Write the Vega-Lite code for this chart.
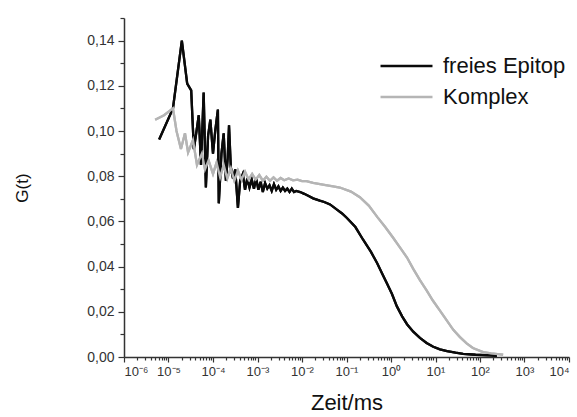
{
  "$schema": "https://vega.github.io/schema/vega-lite/v6.json",
  "width": 445,
  "height": 339,
  "autosize": {"type": "none"},
  "padding": {"left": 124, "top": 18, "right": 8, "bottom": 60},
  "background": "white",
  "config": {
    "view": {"stroke": null},
    "font": "Liberation Sans",
    "axis": {"grid": false, "domainColor": "#333333", "tickColor": "#333333", "domainWidth": 1.5, "tickWidth": 1.2, "labelColor": "#333333", "labelFont": "Liberation Sans", "titleFont": "Liberation Sans", "titleFontWeight": "normal", "titleColor": "#111111"}
  },
  "data": {"values": [
    {"s": "freies Epitop", "t": 6.166e-6, "g": 0.0962},
    {"s": "freies Epitop", "t": 1.259e-5, "g": 0.110},
    {"s": "freies Epitop", "t": 1.995e-5, "g": 0.140},
    {"s": "freies Epitop", "t": 2.630e-5, "g": 0.121},
    {"s": "freies Epitop", "t": 3.236e-5, "g": 0.118},
    {"s": "freies Epitop", "t": 3.715e-5, "g": 0.092},
    {"s": "freies Epitop", "t": 4.266e-5, "g": 0.100},
    {"s": "freies Epitop", "t": 4.786e-5, "g": 0.107},
    {"s": "freies Epitop", "t": 5.370e-5, "g": 0.085},
    {"s": "freies Epitop", "t": 6.166e-5, "g": 0.117},
    {"s": "freies Epitop", "t": 6.918e-5, "g": 0.075},
    {"s": "freies Epitop", "t": 7.762e-5, "g": 0.098},
    {"s": "freies Epitop", "t": 8.710e-5, "g": 0.105},
    {"s": "freies Epitop", "t": 1.0e-4, "g": 0.090},
    {"s": "freies Epitop", "t": 1.122e-4, "g": 0.100},
    {"s": "freies Epitop", "t": 1.288e-4, "g": 0.1095},
    {"s": "freies Epitop", "t": 1.349e-4, "g": 0.068},
    {"s": "freies Epitop", "t": 1.549e-4, "g": 0.090},
    {"s": "freies Epitop", "t": 1.738e-4, "g": 0.099},
    {"s": "freies Epitop", "t": 1.950e-4, "g": 0.078},
    {"s": "freies Epitop", "t": 2.138e-4, "g": 0.088},
    {"s": "freies Epitop", "t": 2.291e-4, "g": 0.1025},
    {"s": "freies Epitop", "t": 2.512e-4, "g": 0.084},
    {"s": "freies Epitop", "t": 2.818e-4, "g": 0.079},
    {"s": "freies Epitop", "t": 3.162e-4, "g": 0.083},
    {"s": "freies Epitop", "t": 3.631e-4, "g": 0.066},
    {"s": "freies Epitop", "t": 4.074e-4, "g": 0.078},
    {"s": "freies Epitop", "t": 4.677e-4, "g": 0.081},
    {"s": "freies Epitop", "t": 5.248e-4, "g": 0.074},
    {"s": "freies Epitop", "t": 5.888e-4, "g": 0.079},
    {"s": "freies Epitop", "t": 6.607e-4, "g": 0.075},
    {"s": "freies Epitop", "t": 7.413e-4, "g": 0.0785},
    {"s": "freies Epitop", "t": 8.318e-4, "g": 0.0745},
    {"s": "freies Epitop", "t": 9.333e-4, "g": 0.079},
    {"s": "freies Epitop", "t": 1.047e-3, "g": 0.074},
    {"s": "freies Epitop", "t": 1.175e-3, "g": 0.0775},
    {"s": "freies Epitop", "t": 1.318e-3, "g": 0.073},
    {"s": "freies Epitop", "t": 1.479e-3, "g": 0.077},
    {"s": "freies Epitop", "t": 1.660e-3, "g": 0.0745},
    {"s": "freies Epitop", "t": 1.862e-3, "g": 0.076},
    {"s": "freies Epitop", "t": 2.089e-3, "g": 0.0735},
    {"s": "freies Epitop", "t": 2.344e-3, "g": 0.0765},
    {"s": "freies Epitop", "t": 2.630e-3, "g": 0.074},
    {"s": "freies Epitop", "t": 2.951e-3, "g": 0.0755},
    {"s": "freies Epitop", "t": 3.311e-3, "g": 0.0735},
    {"s": "freies Epitop", "t": 3.715e-3, "g": 0.075},
    {"s": "freies Epitop", "t": 4.169e-3, "g": 0.0735},
    {"s": "freies Epitop", "t": 4.677e-3, "g": 0.0745},
    {"s": "freies Epitop", "t": 5.248e-3, "g": 0.073},
    {"s": "freies Epitop", "t": 5.888e-3, "g": 0.0745},
    {"s": "freies Epitop", "t": 6.607e-3, "g": 0.073},
    {"s": "freies Epitop", "t": 7.413e-3, "g": 0.0735},
    {"s": "freies Epitop", "t": 9.120e-3, "g": 0.073},
    {"s": "freies Epitop", "t": 1.122e-2, "g": 0.0722},
    {"s": "freies Epitop", "t": 1.413e-2, "g": 0.0712},
    {"s": "freies Epitop", "t": 1.778e-2, "g": 0.0702},
    {"s": "freies Epitop", "t": 2.512e-2, "g": 0.0692},
    {"s": "freies Epitop", "t": 3.162e-2, "g": 0.0686},
    {"s": "freies Epitop", "t": 4.266e-2, "g": 0.0675},
    {"s": "freies Epitop", "t": 6.310e-2, "g": 0.065},
    {"s": "freies Epitop", "t": 7.943e-2, "g": 0.0635},
    {"s": "freies Epitop", "t": 1.023e-1, "g": 0.0615},
    {"s": "freies Epitop", "t": 1.585e-1, "g": 0.0575},
    {"s": "freies Epitop", "t": 2.344e-1, "g": 0.052},
    {"s": "freies Epitop", "t": 3.548e-1, "g": 0.0465},
    {"s": "freies Epitop", "t": 4.898e-1, "g": 0.0415},
    {"s": "freies Epitop", "t": 6.310e-1, "g": 0.037},
    {"s": "freies Epitop", "t": 8.128e-1, "g": 0.0325},
    {"s": "freies Epitop", "t": 1.047, "g": 0.028},
    {"s": "freies Epitop", "t": 1.349, "g": 0.0225},
    {"s": "freies Epitop", "t": 1.778, "g": 0.018},
    {"s": "freies Epitop", "t": 2.291, "g": 0.0145},
    {"s": "freies Epitop", "t": 3.162, "g": 0.0112},
    {"s": "freies Epitop", "t": 4.467, "g": 0.0085},
    {"s": "freies Epitop", "t": 6.310, "g": 0.0062},
    {"s": "freies Epitop", "t": 8.913, "g": 0.0045},
    {"s": "freies Epitop", "t": 12.59, "g": 0.0034},
    {"s": "freies Epitop", "t": 18.20, "g": 0.0026},
    {"s": "freies Epitop", "t": 28.18, "g": 0.0019},
    {"s": "freies Epitop", "t": 41.69, "g": 0.0014},
    {"s": "freies Epitop", "t": 79.43, "g": 0.001},
    {"s": "freies Epitop", "t": 166.0, "g": 0.0007},
    {"s": "freies Epitop", "t": 239.9, "g": 0.0005},
    {"s": "Komplex", "t": 5.012e-6, "g": 0.105},
    {"s": "Komplex", "t": 7.943e-6, "g": 0.107},
    {"s": "Komplex", "t": 1.259e-5, "g": 0.110},
    {"s": "Komplex", "t": 1.514e-5, "g": 0.100},
    {"s": "Komplex", "t": 1.905e-5, "g": 0.092},
    {"s": "Komplex", "t": 2.344e-5, "g": 0.099},
    {"s": "Komplex", "t": 2.754e-5, "g": 0.0905},
    {"s": "Komplex", "t": 3.548e-5, "g": 0.096},
    {"s": "Komplex", "t": 4.365e-5, "g": 0.085},
    {"s": "Komplex", "t": 5.623e-5, "g": 0.090},
    {"s": "Komplex", "t": 6.607e-5, "g": 0.083},
    {"s": "Komplex", "t": 7.943e-5, "g": 0.087},
    {"s": "Komplex", "t": 1.0e-4, "g": 0.081},
    {"s": "Komplex", "t": 1.202e-4, "g": 0.086},
    {"s": "Komplex", "t": 1.445e-4, "g": 0.0795},
    {"s": "Komplex", "t": 1.738e-4, "g": 0.085},
    {"s": "Komplex", "t": 2.089e-4, "g": 0.079},
    {"s": "Komplex", "t": 2.512e-4, "g": 0.0835},
    {"s": "Komplex", "t": 3.020e-4, "g": 0.078},
    {"s": "Komplex", "t": 3.631e-4, "g": 0.0825},
    {"s": "Komplex", "t": 4.365e-4, "g": 0.0785},
    {"s": "Komplex", "t": 5.248e-4, "g": 0.082},
    {"s": "Komplex", "t": 6.310e-4, "g": 0.0785},
    {"s": "Komplex", "t": 7.586e-4, "g": 0.081},
    {"s": "Komplex", "t": 9.120e-4, "g": 0.0785},
    {"s": "Komplex", "t": 1.096e-3, "g": 0.0805},
    {"s": "Komplex", "t": 1.318e-3, "g": 0.078},
    {"s": "Komplex", "t": 1.585e-3, "g": 0.0798},
    {"s": "Komplex", "t": 1.905e-3, "g": 0.078},
    {"s": "Komplex", "t": 2.291e-3, "g": 0.0795},
    {"s": "Komplex", "t": 2.754e-3, "g": 0.078},
    {"s": "Komplex", "t": 3.311e-3, "g": 0.0792},
    {"s": "Komplex", "t": 3.981e-3, "g": 0.0782},
    {"s": "Komplex", "t": 5.012e-3, "g": 0.079},
    {"s": "Komplex", "t": 6.310e-3, "g": 0.0782},
    {"s": "Komplex", "t": 7.943e-3, "g": 0.0785},
    {"s": "Komplex", "t": 1.0e-2, "g": 0.0778},
    {"s": "Komplex", "t": 1.259e-2, "g": 0.0778},
    {"s": "Komplex", "t": 1.778e-2, "g": 0.077},
    {"s": "Komplex", "t": 3.162e-2, "g": 0.0762},
    {"s": "Komplex", "t": 5.012e-2, "g": 0.0755},
    {"s": "Komplex", "t": 7.079e-2, "g": 0.075},
    {"s": "Komplex", "t": 1.259e-1, "g": 0.0732},
    {"s": "Komplex", "t": 1.995e-1, "g": 0.0707},
    {"s": "Komplex", "t": 3.162e-1, "g": 0.067},
    {"s": "Komplex", "t": 4.898e-1, "g": 0.062},
    {"s": "Komplex", "t": 7.413e-1, "g": 0.0575},
    {"s": "Komplex", "t": 1.096, "g": 0.053},
    {"s": "Komplex", "t": 1.585, "g": 0.0485},
    {"s": "Komplex", "t": 2.291, "g": 0.044},
    {"s": "Komplex", "t": 3.162, "g": 0.039},
    {"s": "Komplex", "t": 4.467, "g": 0.034},
    {"s": "Komplex", "t": 6.310, "g": 0.0295},
    {"s": "Komplex", "t": 8.710, "g": 0.025},
    {"s": "Komplex", "t": 12.59, "g": 0.0205},
    {"s": "Komplex", "t": 18.20, "g": 0.016},
    {"s": "Komplex", "t": 25.12, "g": 0.012},
    {"s": "Komplex", "t": 35.48, "g": 0.0088},
    {"s": "Komplex", "t": 50.12, "g": 0.006},
    {"s": "Komplex", "t": 69.18, "g": 0.004},
    {"s": "Komplex", "t": 117.5, "g": 0.0022},
    {"s": "Komplex", "t": 177.8, "g": 0.0016},
    {"s": "Komplex", "t": 281.8, "g": 0.0012},
    {"s": "Komplex", "t": 331.1, "g": 0.001}
  ]},
  "layer": [
    {
      "mark": {"type": "line", "strokeWidth": 2.3, "interpolate": "linear"},
      "encoding": {
        "x": {"field": "t", "type": "quantitative", "scale": {"type": "log", "domain": [1e-6, 10000], "nice": false},
          "axis": {"orient": "bottom", "title": "Zeit/ms", "titleFontSize": 22, "titlePadding": 14, "values": [1e-6, 1e-5, 1e-4, 1e-3, 1e-2, 1e-1, 1, 10, 100, 1000, 10000], "tickSize": 5, "labelFontSize": 13, "labelPadding": 3,
            "labelExpr": "'10' + ['⁻⁶','⁻⁵','⁻⁴','⁻³','⁻²','⁻¹','⁰','¹','²','³','⁴'][round(log(datum.value)/LN10)+6]"}},
        "y": {"field": "g", "type": "quantitative", "scale": {"domain": [0, 0.15], "nice": false, "zero": true},
          "axis": {"orient": "left", "title": "G(t)", "titleFontSize": 17, "titlePadding": 55, "values": [0, 0.02, 0.04, 0.06, 0.08, 0.1, 0.12, 0.14], "tickSize": 6, "labelFontSize": 14, "labelPadding": 4,
            "labelExpr": "replace(format(datum.value, '.2f'), '.', ',')"}},
        "color": {"field": "s", "type": "nominal", "scale": {"domain": ["freies Epitop", "Komplex"], "range": ["#0a0a0a", "#b5b5b5"]},
          "legend": {"title": null, "orient": "none", "legendX": 255, "legendY": 34, "symbolType": "stroke", "symbolSize": 2700, "symbolStrokeWidth": 2.5, "labelFontSize": 22, "labelColor": "#111111", "labelFont": "Liberation Sans", "clipHeight": 28, "rowPadding": 3, "labelOffset": 9}}
      }
    },
    {
      "mark": {"type": "line", "strokeWidth": 2.3, "interpolate": "linear"},
      "encoding": {
        "x": {"field": "t", "type": "quantitative",
          "axis": {"orient": "bottom", "title": null, "labels": false, "domain": false, "tickSize": 3, "values": [2e-6,3e-6,4e-6,5e-6,6e-6,7e-6,8e-6,9e-6,2e-5,3e-5,4e-5,5e-5,6e-5,7e-5,8e-5,9e-5,2e-4,3e-4,4e-4,5e-4,6e-4,7e-4,8e-4,9e-4,2e-3,3e-3,4e-3,5e-3,6e-3,7e-3,8e-3,9e-3,2e-2,3e-2,4e-2,5e-2,6e-2,7e-2,8e-2,9e-2,0.2,0.3,0.4,0.5,0.6,0.7,0.8,0.9,2,3,4,5,6,7,8,9,20,30,40,50,60,70,80,90,200,300,400,500,600,700,800,900,2000,3000,4000,5000,6000,7000,8000,9000]}},
        "y": {"field": "g", "type": "quantitative",
          "axis": {"orient": "left", "title": null, "labels": false, "domain": false, "tickSize": 4, "values": [0.01, 0.03, 0.05, 0.07, 0.09, 0.11, 0.13, 0.15]}},
        "color": {"field": "s", "type": "nominal", "legend": null}
      }
    }
  ],
  "resolve": {"axis": {"x": "independent", "y": "independent"}}
}
